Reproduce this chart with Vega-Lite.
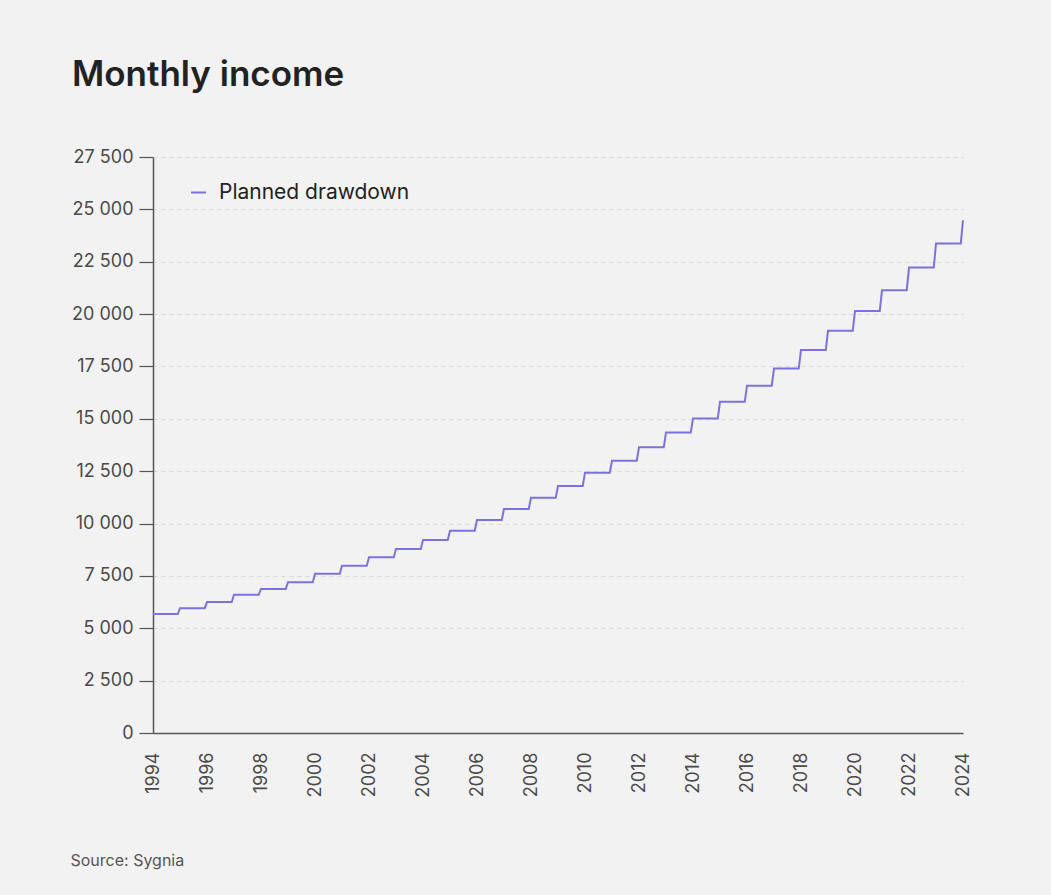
{
  "$schema": "https://vega.github.io/schema/vega-lite/v6.json",
  "autosize": {"type": "none"},
  "width": 810,
  "height": 576,
  "padding": {"left": 153, "top": 157, "right": 88, "bottom": 162},
  "background": "#f2f2f2",
  "title": {
    "text": "Monthly income",
    "anchor": "start",
    "frame": "group",
    "dx": -81,
    "offset": 55,
    "font": "Inter",
    "fontSize": 35,
    "fontWeight": 600,
    "color": "#222222"
  },
  "config": {
    "view": {"stroke": null},
    "locale": {"number": {"decimal": ".", "thousands": " ", "grouping": [3], "currency": ["", ""]}}
  },
  "data": {
    "values": [
      {"t": 1994, "value": 5680, "series": "Planned drawdown"},
      {"t": 1994.917, "value": 5680, "series": "Planned drawdown"},
      {"t": 1995, "value": 5960, "series": "Planned drawdown"},
      {"t": 1995.917, "value": 5960, "series": "Planned drawdown"},
      {"t": 1996, "value": 6250, "series": "Planned drawdown"},
      {"t": 1996.917, "value": 6250, "series": "Planned drawdown"},
      {"t": 1997, "value": 6600, "series": "Planned drawdown"},
      {"t": 1997.917, "value": 6600, "series": "Planned drawdown"},
      {"t": 1998, "value": 6880, "series": "Planned drawdown"},
      {"t": 1998.917, "value": 6880, "series": "Planned drawdown"},
      {"t": 1999, "value": 7200, "series": "Planned drawdown"},
      {"t": 1999.917, "value": 7200, "series": "Planned drawdown"},
      {"t": 2000, "value": 7600, "series": "Planned drawdown"},
      {"t": 2000.917, "value": 7600, "series": "Planned drawdown"},
      {"t": 2001, "value": 7990, "series": "Planned drawdown"},
      {"t": 2001.917, "value": 7990, "series": "Planned drawdown"},
      {"t": 2002, "value": 8390, "series": "Planned drawdown"},
      {"t": 2002.917, "value": 8390, "series": "Planned drawdown"},
      {"t": 2003, "value": 8790, "series": "Planned drawdown"},
      {"t": 2003.917, "value": 8790, "series": "Planned drawdown"},
      {"t": 2004, "value": 9210, "series": "Planned drawdown"},
      {"t": 2004.917, "value": 9210, "series": "Planned drawdown"},
      {"t": 2005, "value": 9660, "series": "Planned drawdown"},
      {"t": 2005.917, "value": 9660, "series": "Planned drawdown"},
      {"t": 2006, "value": 10170, "series": "Planned drawdown"},
      {"t": 2006.917, "value": 10170, "series": "Planned drawdown"},
      {"t": 2007, "value": 10700, "series": "Planned drawdown"},
      {"t": 2007.917, "value": 10700, "series": "Planned drawdown"},
      {"t": 2008, "value": 11230, "series": "Planned drawdown"},
      {"t": 2008.917, "value": 11230, "series": "Planned drawdown"},
      {"t": 2009, "value": 11790, "series": "Planned drawdown"},
      {"t": 2009.917, "value": 11790, "series": "Planned drawdown"},
      {"t": 2010, "value": 12430, "series": "Planned drawdown"},
      {"t": 2010.917, "value": 12430, "series": "Planned drawdown"},
      {"t": 2011, "value": 13000, "series": "Planned drawdown"},
      {"t": 2011.917, "value": 13000, "series": "Planned drawdown"},
      {"t": 2012, "value": 13640, "series": "Planned drawdown"},
      {"t": 2012.917, "value": 13640, "series": "Planned drawdown"},
      {"t": 2013, "value": 14350, "series": "Planned drawdown"},
      {"t": 2013.917, "value": 14350, "series": "Planned drawdown"},
      {"t": 2014, "value": 15020, "series": "Planned drawdown"},
      {"t": 2014.917, "value": 15020, "series": "Planned drawdown"},
      {"t": 2015, "value": 15810, "series": "Planned drawdown"},
      {"t": 2015.917, "value": 15810, "series": "Planned drawdown"},
      {"t": 2016, "value": 16580, "series": "Planned drawdown"},
      {"t": 2016.917, "value": 16580, "series": "Planned drawdown"},
      {"t": 2017, "value": 17400, "series": "Planned drawdown"},
      {"t": 2017.917, "value": 17400, "series": "Planned drawdown"},
      {"t": 2018, "value": 18280, "series": "Planned drawdown"},
      {"t": 2018.917, "value": 18280, "series": "Planned drawdown"},
      {"t": 2019, "value": 19200, "series": "Planned drawdown"},
      {"t": 2019.917, "value": 19200, "series": "Planned drawdown"},
      {"t": 2020, "value": 20150, "series": "Planned drawdown"},
      {"t": 2020.917, "value": 20150, "series": "Planned drawdown"},
      {"t": 2021, "value": 21140, "series": "Planned drawdown"},
      {"t": 2021.917, "value": 21140, "series": "Planned drawdown"},
      {"t": 2022, "value": 22220, "series": "Planned drawdown"},
      {"t": 2022.917, "value": 22220, "series": "Planned drawdown"},
      {"t": 2023, "value": 23370, "series": "Planned drawdown"},
      {"t": 2023.917, "value": 23370, "series": "Planned drawdown"},
      {"t": 2024, "value": 24480, "series": "Planned drawdown"}
    ]
  },
  "mark": {"type": "line", "strokeWidth": 2, "strokeJoin": "miter", "clip": false},
  "encoding": {
    "x": {
      "field": "t",
      "type": "quantitative",
      "scale": {"domain": [1994, 2024], "nice": false, "zero": false},
      "axis": {
        "values": [1994, 1996, 1998, 2000, 2002, 2004, 2006, 2008, 2010, 2012, 2014, 2016, 2018, 2020, 2022, 2024],
        "format": "d",
        "labelAngle": -90,
        "labelAlign": "right",
        "labelBaseline": "middle",
        "ticks": false,
        "grid": false,
        "labelPadding": 19,
        "labelFont": "Inter",
        "labelFontSize": 18,
        "labelColor": "#4a4a4a",
        "labelFlush": false,
        "labelOverlap": false,
        "domainColor": "#555555",
        "domainWidth": 1.5,
        "title": "Source: Sygnia",
        "titleFont": "Inter",
        "titleFontSize": 16,
        "titleFontWeight": 400,
        "titleColor": "#555555",
        "titleAnchor": "start",
        "titleAlign": "left",
        "titleBaseline": "alphabetic",
        "titleX": -83,
        "titleY": 132
      }
    },
    "y": {
      "field": "value",
      "type": "quantitative",
      "scale": {"domain": [0, 27500], "nice": false},
      "axis": {
        "values": [0, 2500, 5000, 7500, 10000, 12500, 15000, 17500, 20000, 22500, 25000, 27500],
        "format": ",d",
        "title": null,
        "tickSize": 14,
        "tickColor": "#555555",
        "tickWidth": 1.2,
        "labelPadding": 6,
        "labelFont": "Inter",
        "labelFontSize": 18,
        "labelColor": "#4a4a4a",
        "domainColor": "#555555",
        "domainWidth": 1.5,
        "grid": true,
        "gridColor": "#d9d9d9",
        "gridDash": [4, 4],
        "gridWidth": 1
      }
    },
    "color": {
      "field": "series",
      "type": "nominal",
      "scale": {"range": ["#7b73dd"]},
      "legend": {
        "title": null,
        "orient": "none",
        "legendX": 35,
        "legendY": 25,
        "symbolType": "stroke",
        "symbolSize": 225,
        "symbolStrokeWidth": 2,
        "labelFont": "Inter",
        "labelFontSize": 21,
        "labelColor": "#222222",
        "labelOffset": 10,
        "labelLimit": 400
      }
    }
  }
}
